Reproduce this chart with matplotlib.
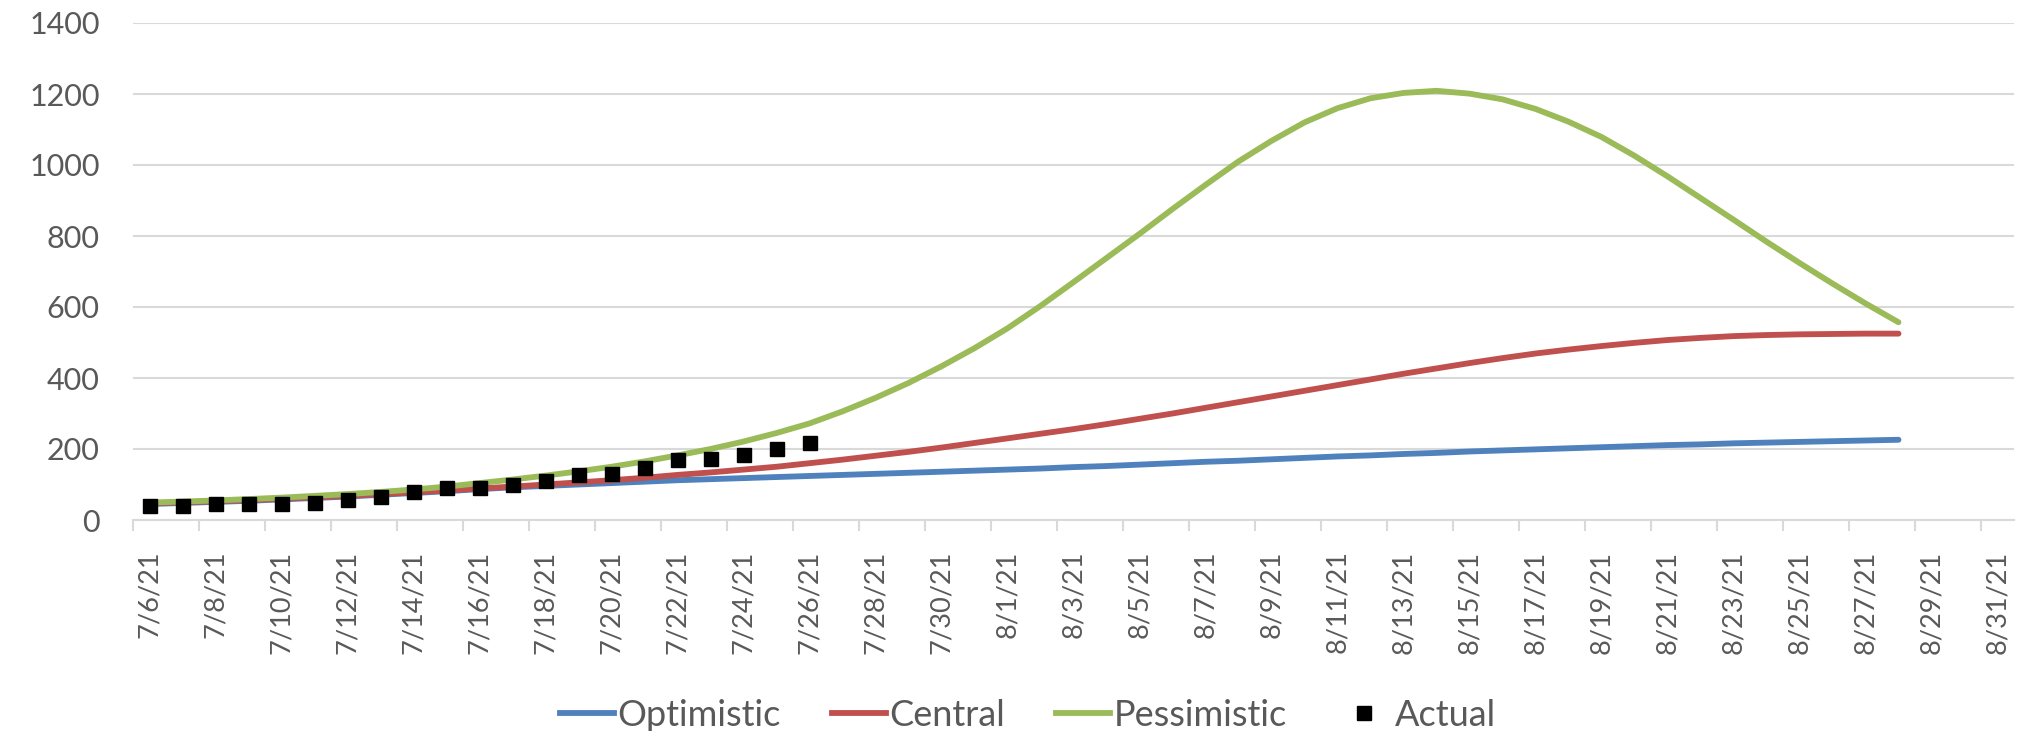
import matplotlib
matplotlib.use("Agg")
import matplotlib.pyplot as plt
from matplotlib.lines import Line2D
import numpy as np
import pandas as pd

dates = pd.date_range("2021-07-06", "2021-08-31", freq="D")
date_labels = [f"{d.month}/{d.day}/{d.strftime('%y')}" for d in dates]

optimistic = [45, 48, 51, 54, 58, 62, 66, 71, 76, 81, 87, 92, 96, 100, 104, 108, 112, 115,
              118, 121, 124, 127, 130, 133, 136, 139, 142, 145, 149, 152, 156, 160, 164, 167,
              171, 175, 179, 182, 186, 189, 193, 196, 199, 202, 205, 208, 211, 213, 216, 218,
              220, 222, 224, 226]
central = [47, 50, 53, 56, 60, 64, 68, 73, 78, 83, 89, 94, 100, 106, 112, 119, 127, 134,
           142, 150, 160, 170, 181, 192, 204, 217, 230, 243, 256, 270, 285, 300, 316, 332,
           348, 364, 380, 396, 412, 427, 442, 456, 469, 480, 490, 499, 507, 513, 518, 521,
           523, 524, 525, 525]
pessimistic = [49, 52, 55, 59, 63, 68, 73, 79, 86, 94, 104, 114, 125, 137, 150, 165, 182, 200,
               221, 245, 272, 306, 344, 386, 433, 484, 540, 603, 670, 738, 806, 876, 944, 1010,
               1068, 1120, 1160, 1188, 1203, 1209, 1201, 1185, 1158, 1122, 1079, 1026, 968, 907,
               846, 784, 724, 666, 610, 557]
actual = [39, 39, 44, 44, 44, 47, 56, 64, 79, 90, 90, 98, 109, 126, 130, 146, 170, 172, 183,
          200, 217]

series_names = ["Optimistic", "Central", "Pessimistic", "Actual"]
colors = ["#4F81BD", "#C0504D", "#9BBB59", "#000000"]

plt.rcParams['font.family'] = ['Lato', 'DejaVu Sans']

W, H = 2029, 731
fig = plt.figure(figsize=(W / 100, H / 100), dpi=100)
ax = fig.add_axes([133 / W, 1 - 520 / H, (2014 - 133) / W, (520 - 23) / H])

xi = np.arange(len(dates))
lw = 4.2
ax.plot(xi[:len(optimistic)], optimistic, color=colors[0], lw=lw, solid_capstyle='round', zorder=3)
ax.plot(xi[:len(central)], central, color=colors[1], lw=lw, solid_capstyle='round', zorder=3)
ax.plot(xi[:len(pessimistic)], pessimistic, color=colors[2], lw=lw, solid_capstyle='round', zorder=4)
ax.plot(xi[:len(actual)], actual, linestyle='none', marker='s', markersize=10.5,
        color=colors[3], zorder=5)

ax.set_xlim(-0.5, len(dates) - 0.5)
ax.set_ylim(0, 1400)
ax.set_yticks(np.arange(0, 1401, 200))
ax.yaxis.grid(True, color="#D9D9D9", lw=1.5)
ax.set_axisbelow(True)
for s in ["top", "right", "left"]:
    ax.spines[s].set_visible(False)
ax.spines["bottom"].set_color("#D9D9D9")
ax.spines["bottom"].set_linewidth(1.5)

ax.tick_params(axis='y', length=0, pad=24, labelsize=22, labelcolor="#595959")
ax.set_xticks(xi[::2])
ax.set_xticklabels(date_labels[::2], rotation=90, fontsize=19.5, color="#595959")
ax.tick_params(axis='x', which='major', length=0, pad=22)
ax.set_xticks(np.arange(-0.5, len(dates), 2), minor=True)
ax.tick_params(axis='x', which='minor', length=8, width=1.5, color="#D9D9D9")

handles = [Line2D([0], [0], color=colors[0], lw=lw),
           Line2D([0], [0], color=colors[1], lw=lw),
           Line2D([0], [0], color=colors[2], lw=lw),
           Line2D([0], [0], linestyle='none', marker='s', markersize=10, color=colors[3])]
leg = fig.legend(handles, series_names, loc='center', bbox_to_anchor=(1028 / W, 1 - 715 / H),
                 ncol=4, frameon=False, fontsize=26, handlelength=1.5, handletextpad=0.1,
                 columnspacing=1.4)
for t in leg.get_texts():
    t.set_color("#595959")

fig.savefig("out.png", dpi=100)
